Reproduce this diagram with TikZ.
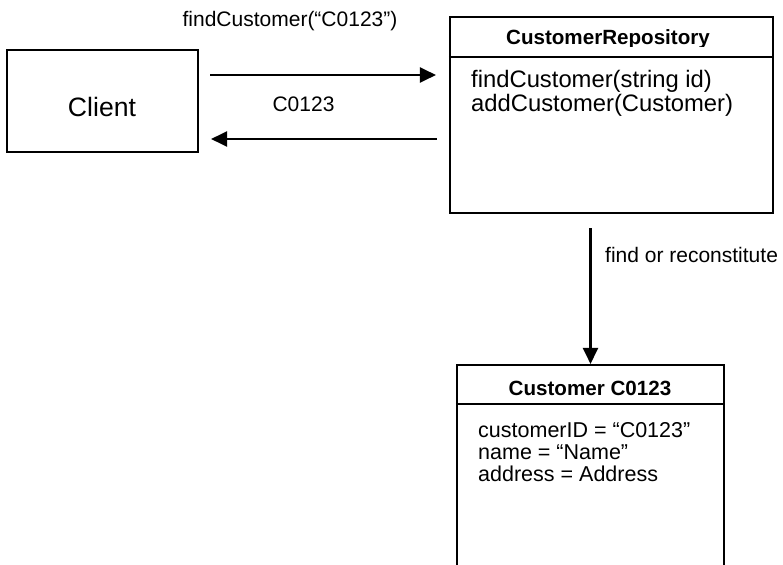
\documentclass[tikz,border=0pt]{standalone}
\usepackage{fontspec}
\setmainfont{Liberation Sans}
\usetikzlibrary{arrows.meta}
\tikzset{
  box/.style={draw, line width=2.1pt, rectangle, inner sep=0pt},
  arr/.style={line width=2.1pt, -{Triangle[length=16pt,width=15pt]}},
  lbl/.style={inner sep=0pt, font=\fontsize{21}{25}\selectfont},
  body/.style={inner sep=0pt, anchor=base west, font=\fontsize{21.5}{25}\selectfont},
  rbody/.style={inner sep=0pt, anchor=base west, font=\fontsize{23.8}{28}\selectfont},
  ttl/.style={inner sep=0pt, anchor=base, font=\fontsize{20.6}{24}\selectfont\bfseries},
}
\begin{document}
\begin{tikzpicture}[x=1pt,y=-1pt]
\clip (0,0) rectangle (783,564);
\fill[white] (0,0) rectangle (783,564);
% boxes
\node[box, minimum width=191pt, minimum height=102pt] (client) at (102.5,101) {};
\node[box, minimum width=323pt, minimum height=196pt] (repo) at (611.5,115) {};
\node[box, minimum width=267pt, minimum height=235pt] (cust) at (590.5,482.5) {};
% compartment lines
\draw[line width=2.1pt] (repo.north west) ++(0,41) coordinate (rh) -- (rh -| repo.east);
\draw[line width=2.1pt] (cust.north west) ++(0,40) coordinate (ch) -- (ch -| cust.east);
% texts
\node[inner sep=0pt, anchor=base, font=\fontsize{26.6}{30}\selectfont] (clientlbl) at (102,117) {Client};
\begin{scope}
\clip (450,17) rectangle (773,47);
\node[ttl] (repotitle) at (608,45) {CustomerRepository};
\end{scope}
\node[rbody] (r1) at (471,88) {findCustomer(string id)};
\node[rbody] (r2) at (471,112) {addCustomer(Customer)};
\node[ttl] (custtitle) at (590,395) {Customer C0123};
\node[body] (c1) at (478,437) {customerID = “C0123”};
\node[body] (c2) at (478,459) {name = “Name”};
\node[body] (c3) at (478,481) {address = Address};
\node[lbl, anchor=base] (call) at (290,27) {findCustomer(“C0123”)};
\node[lbl, anchor=base] (ret) at (303.5,112) {C0123};
\node[lbl, anchor=base west] (find) at (605,262) {find or reconstitute};
% connectors
\coordinate (ya) at (0,75);
\coordinate (yb) at (0,139);
\coordinate (top) at (590.5,228);
\draw[arr, shorten <=11pt, shorten >=13pt] (client.east |- ya) -- (repo.west |- ya);
\draw[arr, shorten <=12pt, shorten >=12pt] (repo.west |- yb) -- (client.east |- yb);
\draw[arr] (top) -- (cust.north);
\end{tikzpicture}
\end{document}
